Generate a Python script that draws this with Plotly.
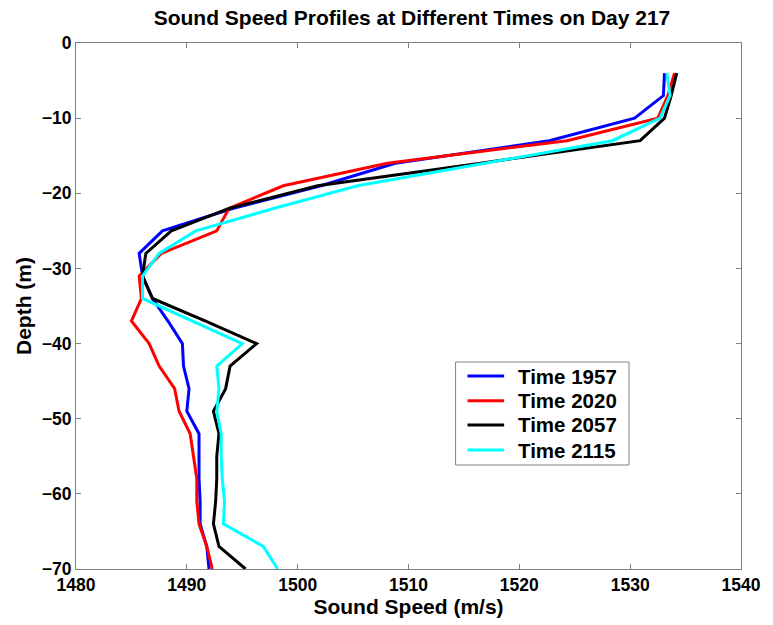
import plotly.graph_objects as go

depth = [-4, -7, -10, -13, -16, -19, -22, -25, -28, -31, -34, -37, -40, -43, -46,
         -49, -52, -55, -58, -61, -64, -67, -70]

speed_1957 = [1533.1, 1533.0, 1530.4, 1522.7, 1508.8, 1502.1, 1494.2, 1487.8, 1485.7,
              1486.0, 1486.9, 1488.3, 1489.6, 1489.7, 1490.2, 1490.0, 1491.1, 1491.1,
              1491.1, 1491.2, 1491.2, 1491.8, 1492.0]
speed_2020 = [1534.0, 1533.4, 1532.5, 1524.3, 1508.1, 1498.7, 1493.8, 1492.7, 1487.7,
              1485.7, 1485.9, 1485.0, 1486.6, 1487.5, 1488.9, 1489.3, 1490.3, 1490.6,
              1490.9, 1490.9, 1491.1, 1491.8, 1492.3]
speed_2057 = [1534.2, 1533.7, 1533.1, 1530.9, 1516.5, 1501.8, 1493.8, 1488.6, 1486.3,
              1486.0, 1486.9, 1491.7, 1496.3, 1493.9, 1493.5, 1492.4, 1492.9, 1492.7,
              1492.7, 1492.6, 1492.4, 1492.9, 1495.3]
speed_2115 = [1533.3, 1533.6, 1532.7, 1528.4, 1516.9, 1505.4, 1497.9, 1490.8, 1487.5,
              1486.0, 1486.0, 1490.5, 1495.0, 1492.7, 1492.9, 1492.7, 1493.1, 1493.1,
              1493.2, 1493.4, 1493.3, 1496.9, 1498.2]

names = ["Time 1957", "Time 2020", "Time 2057", "Time 2115"]
values = [speed_1957, speed_2020, speed_2057, speed_2115]
colors = ["#0000ff", "#ff0000", "#000000", "#00ffff"]

x_ticks = [1480, 1490, 1500, 1510, 1520, 1530, 1540]
y_ticks = [0, -10, -20, -30, -40, -50, -60, -70]

FONT = "Liberation Sans, Arial, sans-serif"
GRAY = "#808080"

fig = go.Figure()
for name, vals, color in zip(names, values, colors):
    fig.add_trace(go.Scatter(x=vals, y=depth, mode="lines", name=name,
                             line=dict(color=color, width=3)))

# Legend box drawn in paper coordinates (MATLAB-style legend)
shapes = [dict(type="rect", xref="paper", yref="paper",
               x0=0.5708, x1=0.8316, y0=0.1977, y1=0.3935,
               line=dict(color=GRAY, width=1), fillcolor="white", layer="above")]
annotations = []
row_y = [0.3669, 0.3200, 0.2738, 0.2262]
for name, color, ry in zip(names, colors, row_y):
    shapes.append(dict(type="line", xref="paper", yref="paper",
                       x0=0.5887, x1=0.6438, y0=ry, y1=ry,
                       line=dict(color=color, width=3), layer="above"))
    annotations.append(dict(text=name, xref="paper", yref="paper",
                            x=0.6617, y=ry, xanchor="left", yanchor="middle",
                            showarrow=False,
                            font=dict(size=20.5, family=FONT, color="black", weight="bold")))

fig.update_layout(
    width=773, height=625,
    margin=dict(l=76, r=26, t=43, b=56),
    paper_bgcolor="white", plot_bgcolor="white",
    font=dict(family=FONT, size=17, color="black", weight="bold"),
    title=dict(text="Sound Speed Profiles at Different Times on Day 217",
               x=0.533, xanchor="center", y=0.971, yanchor="middle",
               font=dict(size=21, family=FONT, weight="bold")),
    showlegend=False,
    shapes=shapes,
    annotations=annotations,
)
fig.update_xaxes(range=[1480, 1540], tickvals=x_ticks, ticktext=[str(v) for v in x_ticks],
                 ticks="inside", ticklen=5, tickcolor=GRAY,
                 showline=True, linecolor=GRAY, linewidth=1, mirror="ticks",
                 showgrid=False, zeroline=False,
                 tickfont=dict(size=17.5, family=FONT, weight="bold"),
                 title=dict(text="Sound Speed (m/s)", standoff=0,
                            font=dict(size=21, family=FONT, weight="bold")))
fig.update_yaxes(range=[-70, 0], tickvals=y_ticks,
                 ticktext=[str(v).replace("-", "\u2212") for v in y_ticks],
                 ticks="inside", ticklen=5, tickcolor=GRAY,
                 showline=True, linecolor=GRAY, linewidth=1, mirror="ticks",
                 showgrid=False, zeroline=False,
                 tickfont=dict(size=17.5, family=FONT, weight="bold"),
                 title=dict(text="Depth (m)", standoff=4,
                            font=dict(size=21, family=FONT, weight="bold")))

fig.write_html("out.html")
